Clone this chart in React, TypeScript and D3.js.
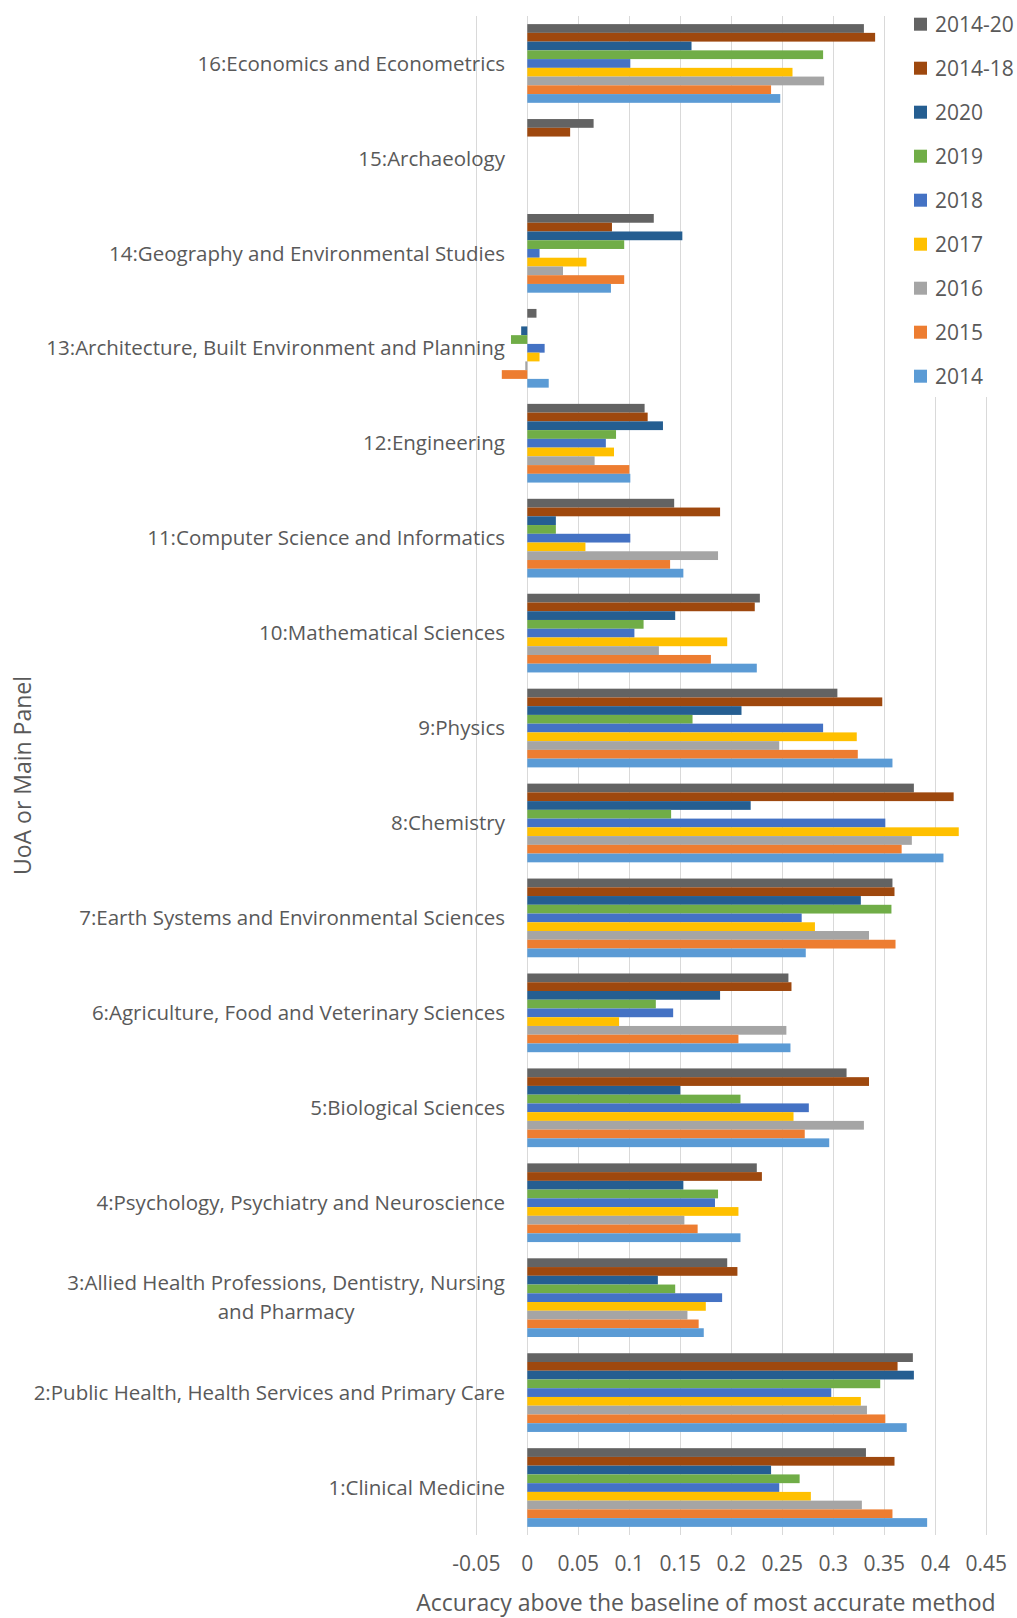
import React, { useEffect, useRef } from "react";
import * as d3 from "d3";

// categories top to bottom, as in the chart
const categories = [
  "16:Economics and Econometrics",
  "15:Archaeology",
  "14:Geography and Environmental Studies",
  "13:Architecture, Built Environment and Planning",
  "12:Engineering",
  "11:Computer Science and Informatics",
  "10:Mathematical Sciences",
  "9:Physics",
  "8:Chemistry",
  "7:Earth Systems and Environmental Sciences",
  "6:Agriculture, Food and Veterinary Sciences",
  "5:Biological Sciences",
  "4:Psychology, Psychiatry and Neuroscience",
  "3:Allied Health Professions, Dentistry, Nursing and Pharmacy",
  "2:Public Health, Health Services and Primary Care",
  "1:Clinical Medicine",
];

const seriesNames = ["2014-20", "2014-18", "2020", "2019", "2018", "2017", "2016", "2015", "2014"];
const seriesColors = ["#636363", "#9E480E", "#255E91", "#70AD47", "#4472C4", "#FFC000", "#A5A5A5", "#ED7D31", "#5B9BD5"];

// values per series, same order as categories (null = no bar)
const v2014_20 = [0.330, 0.065, 0.124, 0.009, 0.115, 0.144, 0.228, 0.304, 0.379, 0.358, 0.256, 0.313, 0.225, 0.196, 0.378, 0.332];
const v2014_18 = [0.341, 0.042, 0.083, null, 0.118, 0.189, 0.223, 0.348, 0.418, 0.360, 0.259, 0.335, 0.230, 0.206, 0.363, 0.360];
const v2020 = [0.161, null, 0.152, -0.006, 0.133, 0.028, 0.145, 0.210, 0.219, 0.327, 0.189, 0.150, 0.153, 0.128, 0.379, 0.239];
const v2019 = [0.290, null, 0.095, -0.016, 0.087, 0.028, 0.114, 0.162, 0.141, 0.357, 0.126, 0.209, 0.187, 0.145, 0.346, 0.267];
const v2018 = [0.101, null, 0.012, 0.017, 0.077, 0.101, 0.105, 0.290, 0.351, 0.269, 0.143, 0.276, 0.184, 0.191, 0.298, 0.247];
const v2017 = [0.260, null, 0.058, 0.012, 0.085, 0.057, 0.196, 0.323, 0.423, 0.282, 0.090, 0.261, 0.207, 0.175, 0.327, 0.278];
const v2016 = [0.291, null, 0.035, -0.002, 0.066, 0.187, 0.129, 0.247, 0.377, 0.335, 0.254, 0.330, 0.154, 0.157, 0.333, 0.328];
const v2015 = [0.239, null, 0.095, -0.025, 0.100, 0.140, 0.180, 0.324, 0.367, 0.361, 0.207, 0.272, 0.167, 0.168, 0.351, 0.358];
const v2014 = [0.248, null, 0.082, 0.021, 0.101, 0.153, 0.225, 0.358, 0.408, 0.273, 0.258, 0.296, 0.209, 0.173, 0.372, 0.392];
const seriesValues = [v2014_20, v2014_18, v2020, v2019, v2018, v2017, v2016, v2015, v2014];

const tickValues = [-0.05, 0, 0.05, 0.1, 0.15, 0.2, 0.25, 0.3, 0.35, 0.4, 0.45];
const tickLabels = ["-0.05", "0", "0.05", "0.1", "0.15", "0.2", "0.25", "0.3", "0.35", "0.4", "0.45"];

const xTitle = "Accuracy above the baseline of most accurate method";
const yTitle = "UoA or Main Panel";

const W = 1017;
const H = 1618;
const FONT = "'Open Sans', sans-serif";
const TEXT = "#595959";
const GRID = "#D9D9D9";

// split long labels in two lines like Excel does
const wrapLabel = (s: string) => {
  if (s.length <= 50) return [s];
  const cut = s.lastIndexOf(" ", 48);
  return [s.slice(0, cut), s.slice(cut + 1)];
};

export default function App() {
  const ref = useRef<SVGSVGElement>(null);

  useEffect(() => {
    const svg = d3.select(ref.current);
    svg.selectAll("*").remove();

    const plotTop = 16;
    const plotBottom = 1535;

    const x = d3.scaleLinear().domain([-0.05, 0.45]).range([476.3, 986.3]);
    const y = d3
      .scaleBand()
      .domain(categories)
      .range([plotTop, plotBottom])
      .paddingInner(0.171)
      .paddingOuter(0.0855);
    const ySub = d3.scaleBand().domain(seriesNames).range([0, y.bandwidth()]);

    svg.append("rect").attr("width", W).attr("height", H).attr("fill", "#fff");

    // gridlines
    svg
      .append("g")
      .selectAll("line")
      .data(tickValues)
      .join("line")
      .attr("x1", (d) => Math.round(x(d)) + 0.5)
      .attr("x2", (d) => Math.round(x(d)) + 0.5)
      .attr("y1", plotTop)
      .attr("y2", plotBottom)
      .attr("stroke", GRID)
      .attr("stroke-width", 1);

    // bars
    const barData: { cat: string; s: number; v: number }[] = [];
    seriesValues.forEach((vals, s) => {
      vals.forEach((v, i) => {
        if (v !== null) barData.push({ cat: categories[i], s, v: v as number });
      });
    });

    svg
      .append("g")
      .selectAll("rect")
      .data(barData)
      .join("rect")
      .attr("x", (d) => Math.min(x(0), x(d.v)))
      .attr("width", (d) => Math.abs(x(d.v) - x(0)))
      .attr("y", (d) => (y(d.cat) as number) + (ySub(seriesNames[d.s]) as number))
      .attr("height", ySub.bandwidth())
      .attr("fill", (d) => seriesColors[d.s]);

    // tick labels
    svg
      .append("g")
      .selectAll("text")
      .data(tickValues)
      .join("text")
      .attr("x", (d) => x(d))
      .attr("y", 1571)
      .attr("text-anchor", "middle")
      .style("font-family", FONT)
      .style("font-size", "21px")
      .style("fill", TEXT)
      .text((d, i) => tickLabels[i]);

    // category labels
    const labelG = svg.append("g");
    const labelSize = "20.5px";
    categories.forEach((c) => {
      const lines = wrapLabel(c);
      const cy = (y(c) as number) + y.bandwidth() / 2;
      if (lines.length === 1) {
        labelG
          .append("text")
          .attr("x", 505)
          .attr("y", cy)
          .attr("dy", "0.35em")
          .attr("text-anchor", "end")
          .style("font-family", FONT)
          .style("font-size", labelSize)
          .style("fill", TEXT)
          .text(c);
      } else {
        const first = labelG
          .append("text")
          .attr("x", 505)
          .attr("y", cy - 14.5)
          .attr("dy", "0.35em")
          .attr("text-anchor", "end")
          .style("font-family", FONT)
          .style("font-size", labelSize)
          .style("fill", TEXT)
          .text(lines[0]);
        const w = (first.node() as SVGTextElement).getComputedTextLength();
        labelG
          .append("text")
          .attr("x", 505 - w / 2)
          .attr("y", cy + 14.5)
          .attr("dy", "0.35em")
          .attr("text-anchor", "middle")
          .style("font-family", FONT)
          .style("font-size", labelSize)
          .style("fill", TEXT)
          .text(lines[1]);
      }
    });

    // axis titles
    svg
      .append("text")
      .attr("x", 706)
      .attr("y", 1611)
      .attr("text-anchor", "middle")
      .style("font-family", FONT)
      .style("font-size", "23px")
      .style("fill", TEXT)
      .text(xTitle);

    svg
      .append("text")
      .attr("transform", `translate(31, ${(plotTop + plotBottom) / 2}) rotate(-90)`)
      .attr("text-anchor", "middle")
      .style("font-family", FONT)
      .style("font-size", "23px")
      .style("fill", TEXT)
      .text(yTitle);

    // legend (white box hides gridlines behind it)
    const legend = svg.append("g");
    legend.append("rect").attr("x", 900).attr("y", 0).attr("width", 117).attr("height", 397).attr("fill", "#fff");
    const items = legend
      .selectAll("g.item")
      .data(seriesNames)
      .join("g")
      .attr("class", "item")
      .attr("transform", (d, i) => `translate(914, ${24.2 + i * 44})`);
    items
      .append("rect")
      .attr("x", 0)
      .attr("y", -6.5)
      .attr("width", 13)
      .attr("height", 13)
      .attr("fill", (d, i) => seriesColors[i]);
    items
      .append("text")
      .attr("x", 21)
      .attr("y", 0)
      .attr("dy", "0.35em")
      .style("font-family", FONT)
      .style("font-size", "21px")
      .style("fill", TEXT)
      .text((d) => d);
  }, []);

  return (
    <svg
      ref={ref}
      width={W}
      height={H}
      style={{ position: "absolute", left: 0, top: 0, display: "block" }}
    />
  );
}
